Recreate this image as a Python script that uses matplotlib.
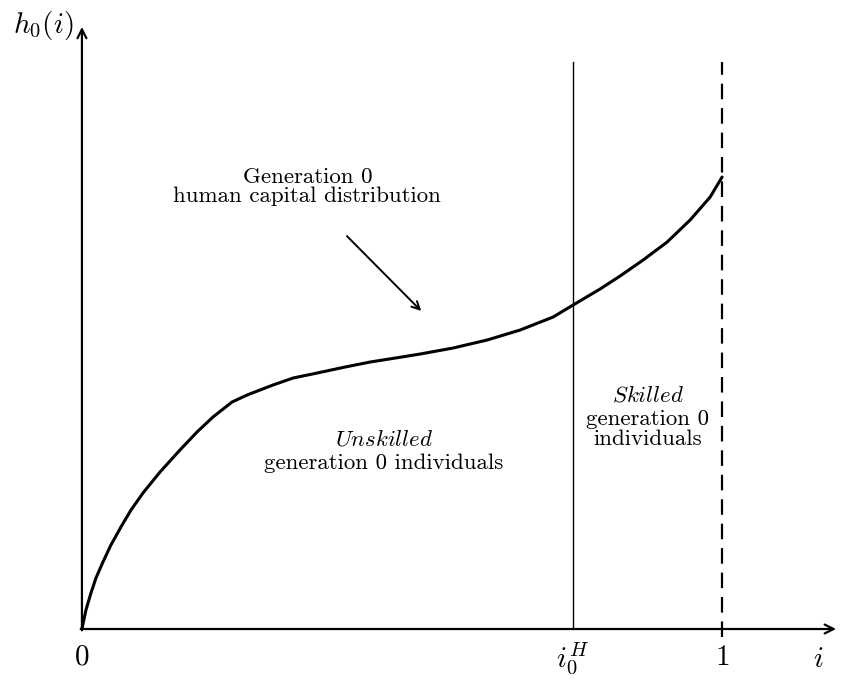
import matplotlib
matplotlib.use("Agg")
from matplotlib import pyplot as plt

# curve h_0(i) (i on [0, 1])
i_vals = [0.0, 0.00625, 0.0141, 0.0219, 0.0328, 0.0453, 0.0609, 0.0766, 0.0953,
          0.1219, 0.1531, 0.1797, 0.2047, 0.2344, 0.2578, 0.2984, 0.3297, 0.3672,
          0.4109, 0.45, 0.4891, 0.5281, 0.5797, 0.6328, 0.6844, 0.7359, 0.7672,
          0.8094, 0.8406, 0.8766, 0.9141, 0.95, 0.9813, 1.0]
h_vals = [0.0, 0.0297, 0.0563, 0.0797, 0.1047, 0.1313, 0.1594, 0.1859, 0.2125,
          0.2453, 0.2797, 0.3078, 0.3313, 0.3547, 0.3656, 0.3813, 0.3922, 0.4,
          0.4094, 0.4172, 0.4234, 0.4297, 0.4391, 0.4516, 0.4672, 0.4875, 0.5063,
          0.5313, 0.5516, 0.5766, 0.6047, 0.6391, 0.675, 0.7063]

i0_H = 0.767
i_max = 1.0
x_labels = ["$0$", "$i_0^H$", "$1$"]
x_label_pos = [0.0, i0_H, i_max]

plt.rcParams["font.family"] = "cmr10"
plt.rcParams["mathtext.fontset"] = "cm"
plt.rcParams["axes.formatter.use_mathtext"] = True

fig = plt.figure(figsize=(8.45, 6.85), dpi=100)
ax = fig.add_axes([0, 0, 1, 1])
ax.set_xlim(-0.128, 1.192)
ax.set_ylim(-0.0875, 0.983)
ax.axis("off")

# axes with arrows
arrow = dict(arrowstyle="->", lw=1.6, color="black", mutation_scale=16,
             shrinkA=0, shrinkB=0)
ax.annotate("", xy=(1.178, 0), xytext=(-0.002, 0), arrowprops=arrow)
ax.annotate("", xy=(0, 0.941), xytext=(0, -0.002), arrowprops=arrow)

# the distribution
ax.plot(i_vals, h_vals, color="black", lw=2.2, solid_capstyle="round",
        solid_joinstyle="round")

# threshold and upper bound
ax.plot([i0_H, i0_H], [0, 0.886], color="black", lw=1.0)
ax.plot([i_max, i_max], [-0.0125, 0.886], color="black", lw=1.6,
        dashes=(7, 4))

# labels
ax.text(-0.061, 0.943, "$h_0(i)$", fontsize=21, ha="center", va="center")
ax.text(1.15, -0.048, "$i$", fontsize=21, ha="center", va="center")
for pos, lab in zip(x_label_pos, x_labels):
    ax.text(pos, -0.045, lab, fontsize=21, ha="center", va="center")

ax.text(0.352, 0.6906, "Generation 0\nhuman capital distribution",
        fontsize=16.5, ha="center", va="center", linespacing=0.95)
ax.annotate("", xy=(0.530, 0.497), xytext=(0.414, 0.614),
            arrowprops=dict(arrowstyle="->", lw=1.4, color="black",
                            mutation_scale=14, shrinkA=0, shrinkB=0))

ax.text(0.472, 0.297, r"$\mathit{Unskilled}$", fontsize=16.5,
        ha="center", va="center")
ax.text(0.472, 0.259, "generation 0 individuals", fontsize=16.5,
        ha="center", va="center")

ax.text(0.884, 0.365, r"$\mathit{Skilled}$", fontsize=16.5,
        ha="center", va="center")
ax.text(0.884, 0.3125, "generation 0\nindividuals", fontsize=16.5,
        ha="center", va="center", linespacing=1.05)

plt.savefig("out.png", dpi=100)
